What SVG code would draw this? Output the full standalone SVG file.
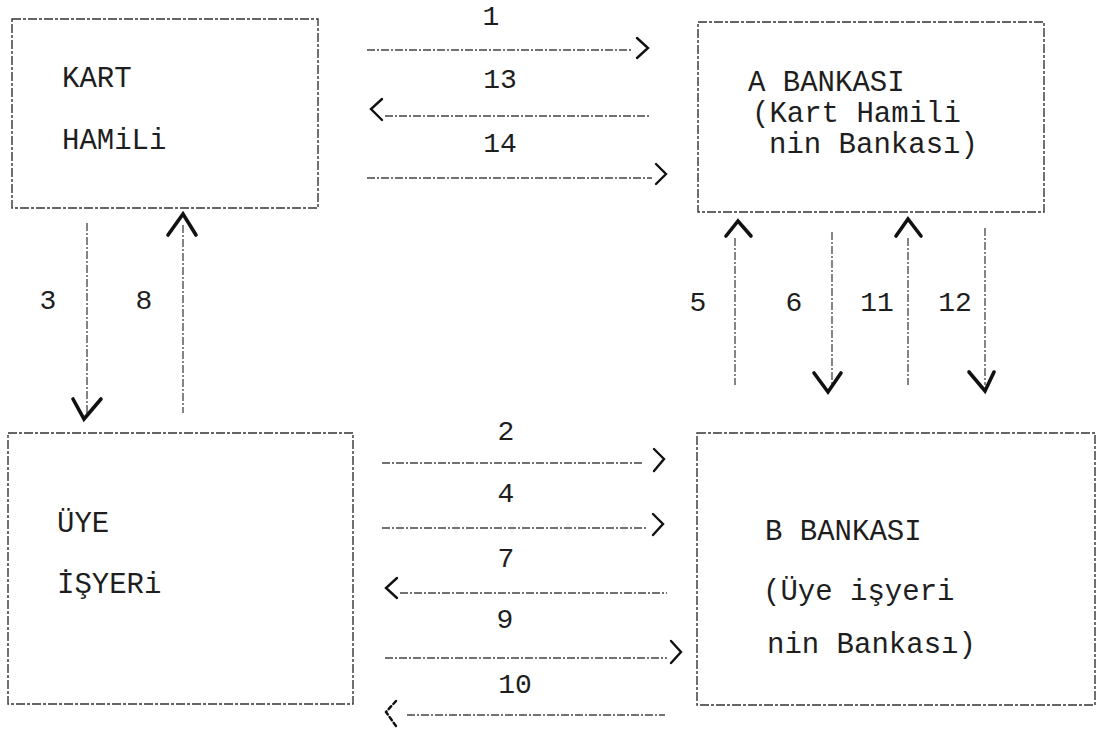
<svg xmlns="http://www.w3.org/2000/svg" width="1101" height="729" viewBox="0 0 1101 729">
<style>
.box{fill:none;stroke:#333;stroke-width:1.4;stroke-dasharray:9 2 3 2}
.t{font-family:"Liberation Mono","DejaVu Sans Mono",monospace;font-size:29px;fill:#1e1e1e}
.n{font-family:"Liberation Mono","DejaVu Sans Mono",monospace;font-size:28px;fill:#1e1e1e;text-anchor:middle}
.ln{fill:none;stroke:#444;stroke-width:1.3;stroke-dasharray:8 2 2 2}
.hh{fill:none;stroke:#111;stroke-width:2.4;stroke-linecap:round;stroke-linejoin:miter}
.vh{fill:none;stroke:#111;stroke-width:3.6;stroke-linecap:round;stroke-linejoin:miter}
</style>
<rect width="1101" height="729" fill="#fff"/>
<g id="kart-hamili">
<rect class="box" x="12" y="19" width="306" height="189"/>
<text class="t" x="62" y="87">KART</text>
<text class="t" x="62" y="149">HAMiLi</text>
</g>
<g id="a-bankasi">
<rect class="box" x="698" y="22" width="346" height="190"/>
<text class="t" x="748" y="91">A BANKASI</text>
<text class="t" x="752" y="122">(Kart Hamili</text>
<text class="t" x="769" y="153">nin Bankası)</text>
</g>
<g id="uye-isyeri">
<rect class="box" x="8" y="433" width="345" height="271"/>
<text class="t" x="57" y="532">ÜYE</text>
<text class="t" x="57" y="593">İŞYERi</text>
</g>
<g id="b-bankasi">
<rect class="box" x="697" y="433" width="398" height="272"/>
<text class="t" x="765" y="540">B BANKASI</text>
<text class="t" x="763" y="600">(Üye işyeri</text>
<text class="t" x="767" y="653">nin Bankası)</text>
</g>
<g id="connectors">
<!-- 1 -->
<line class="ln" x1="367" y1="50" x2="632" y2="50"/>
<polyline class="hh" points="637,38 648,48 637,58"/>
<text class="n" x="491" y="25">1</text>
<!-- 13 -->
<line class="ln" x1="385" y1="116" x2="650" y2="116"/>
<polyline class="hh" points="382,99 371,109 382,120"/>
<text class="n" x="500" y="88">13</text>
<!-- 14 -->
<line class="ln" x1="367" y1="178" x2="652" y2="178"/>
<polyline class="hh" points="656,164 666,174 656,184"/>
<text class="n" x="500" y="152">14</text>
<!-- 3 -->
<line class="ln" x1="87" y1="223" x2="87" y2="413"/>
<polyline class="vh" points="73,399 84,419 101,399"/>
<text class="n" x="48" y="309">3</text>
<!-- 8 -->
<line class="ln" x1="183" y1="225" x2="183" y2="413"/>
<polyline class="vh" points="168,235 183,214 196,235"/>
<text class="n" x="144" y="309">8</text>
<!-- 5 -->
<line class="ln" x1="735" y1="238" x2="735" y2="385"/>
<polyline class="vh" points="726,236 738,221 751,236"/>
<text class="n" x="698" y="311">5</text>
<!-- 6 -->
<line class="ln" x1="832" y1="232" x2="832" y2="385"/>
<polyline class="vh" points="814,373 828,392 841,373"/>
<text class="n" x="794" y="311">6</text>
<!-- 11 -->
<line class="ln" x1="908" y1="238" x2="908" y2="385"/>
<polyline class="vh" points="896,236 908,219 921,236"/>
<text class="n" x="877" y="311">11</text>
<!-- 12 -->
<line class="ln" x1="985" y1="228" x2="985" y2="385"/>
<polyline class="vh" points="969,372 985,391 994,372"/>
<text class="n" x="955" y="311">12</text>
<!-- 2 -->
<line class="ln" x1="382" y1="463" x2="642" y2="463"/>
<polyline class="hh" points="654,449 664,459 654,471"/>
<text class="n" x="506" y="440">2</text>
<!-- 4 -->
<line class="ln" x1="382" y1="528" x2="647" y2="528"/>
<polyline class="hh" points="653,514 663,524 653,535"/>
<text class="n" x="506" y="502">4</text>
<!-- 7 -->
<line class="ln" x1="400" y1="593" x2="667" y2="593"/>
<polyline class="hh" points="397,578 386,588 397,598"/>
<text class="n" x="506" y="567">7</text>
<!-- 9 -->
<line class="ln" x1="385" y1="658" x2="667" y2="658"/>
<polyline class="hh" points="671,641 681,652 671,663"/>
<text class="n" x="505" y="628">9</text>
<!-- 10 -->
<line class="ln" x1="407" y1="715" x2="665" y2="715"/>
<polyline class="hh" points="396,701 386,712 396,726" stroke-dasharray="4 3"/>
<text class="n" x="515" y="693">10</text>
</g>
</svg>
